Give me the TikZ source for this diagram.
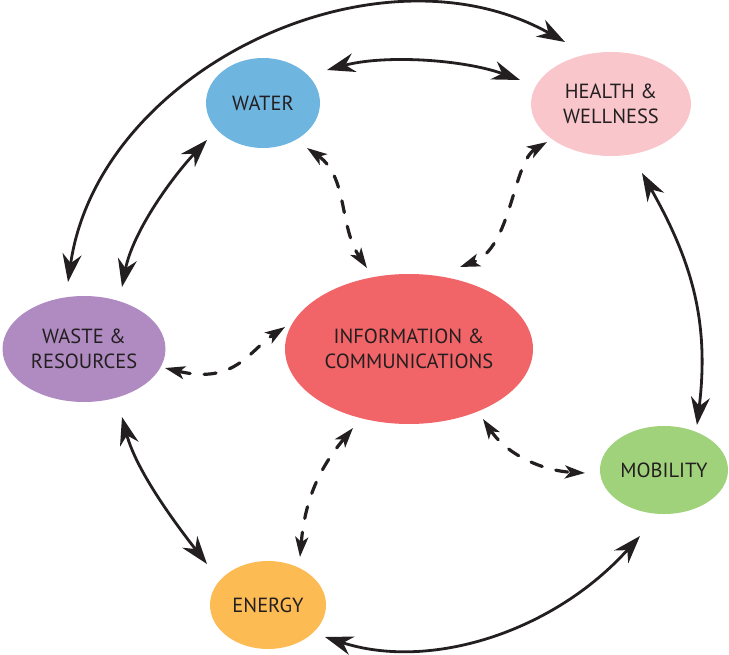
\documentclass[tikz,border=0pt]{standalone}
\usepackage{fontspec}
\setmainfont{PT Sans}
\usetikzlibrary{arrows.meta,calc,shapes.geometric}
\definecolor{waterc}{RGB}{110,181,224}
\definecolor{healthc}{RGB}{248,198,203}
\definecolor{infoc}{RGB}{241,100,103}
\definecolor{wastec}{RGB}{175,139,193}
\definecolor{mobc}{RGB}{160,209,123}
\definecolor{energyc}{RGB}{253,187,84}
\definecolor{ink}{RGB}{35,31,32}
\tikzset{
  blob/.style={ellipse, inner sep=0pt, outer sep=0pt, text=ink, align=center,
    font=\fontsize{20.5}{24.5}\selectfont},
  solidarrow/.style={draw=ink, line width=2.8pt,
    {Stealth[length=28pt,width=19pt,inset=9pt]}-{Stealth[length=28pt,width=19pt,inset=9pt]}},
  dasharrow/.style={draw=ink, line width=3.2pt, line cap=round, dash pattern=on 12pt off 14pt,
    {Stealth[length=20pt,width=13pt,inset=5pt]}-{Stealth[length=20pt,width=13pt,inset=5pt]}}
}
\begin{document}
\begin{tikzpicture}[x=1pt,y=1pt]
\useasboundingbox (0,0) rectangle (729,-655);
% nodes
\node[blob, fill=waterc,  minimum width=114pt, minimum height=90pt]  (water)    at (263,-103) {WATER};
\node[blob, fill=healthc, minimum width=160pt, minimum height=104pt] (health)   at (611,-104) {HEALTH \&\\WELLNESS};
\node[blob, fill=infoc,   minimum width=248pt, minimum height=150pt] (info)     at (409,-349) {INFORMATION \&\\COMMUNICATIONS};
\node[blob, fill=wastec,  minimum width=163pt, minimum height=106pt] (waste)    at (84,-349)  {WASTE \&\\RESOURCES};
\node[blob, fill=mobc,    minimum width=128pt, minimum height=88pt]  (mobility) at (664,-470) {MOBILITY};
\node[blob, fill=energyc, minimum width=116pt, minimum height=88pt]  (energy)   at (268,-605) {ENERGY};
% solid connectors
\draw[solidarrow] ($(water)+(64,33)$) .. controls +(15:60) and +(160:60) .. ($(health)+(-91,24)$);
\draw[solidarrow] ($(waste)+(-16,67)$) .. controls +(81.8:215) and +(150.7:215) .. ($(health)+(-46,62)$);
\draw[solidarrow] ($(water)+(-56,-37)$) .. controls +(-133:55) and +(79:55) .. ($(waste)+(38,62)$);
\draw[solidarrow] ($(waste)+(38,-68)$) .. controls +(-75:55) and +(128:55) .. ($(energy)+(-61,41)$);
\draw[solidarrow] ($(energy)+(57,-32)$) .. controls +(-18:110) and +(228:130) .. ($(mobility)+(-24,-66)$);
\draw[solidarrow] ($(health)+(31,-69)$) .. controls +(-60.5:100) and +(83:105) .. ($(mobility)+(33,45)$);
% dashed connectors
\draw[dasharrow] ($(water)+(44,-45)$) .. controls +(-35:50) and +(124:50) .. ($(info)+(-42,81)$);
\draw[dasharrow] ($(health)+(-64,-38)$) .. controls +(211:40) and +(20:55) .. ($(info)+(51,82)$);
\draw[dasharrow] ($(waste)+(81,-19)$) .. controls +(-13.6:72) and +(213.3:42) .. ($(info)+(-124,22)$);
\draw[dasharrow] ($(info)+(74,-70)$) .. controls +(-56:45) and +(177:40) .. ($(mobility)+(-79,-3)$);
\draw[dasharrow] ($(info)+(-56,-79)$) .. controls +(230:55) and +(85:55) .. ($(energy)+(32,48)$);
\end{tikzpicture}
\end{document}
